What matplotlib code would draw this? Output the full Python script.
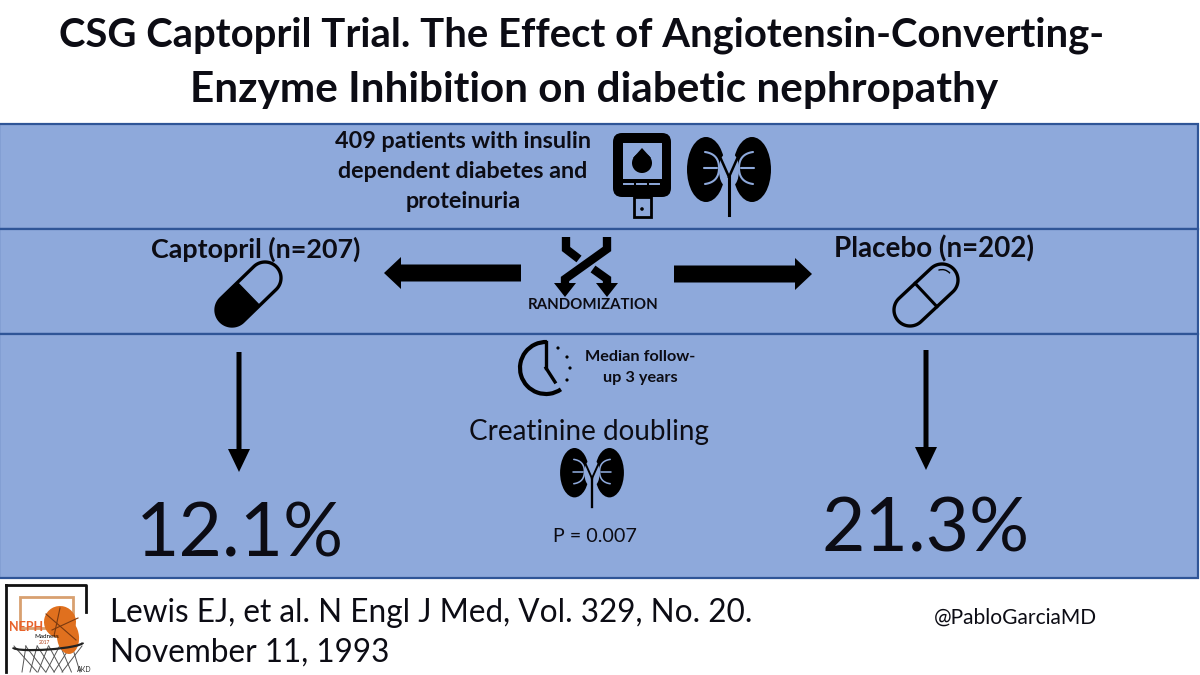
import matplotlib
matplotlib.use('Agg')
import matplotlib.pyplot as plt
import numpy as np
from matplotlib.patches import Rectangle, Ellipse, FancyBboxPatch, Polygon, Circle, Arc

plt.rcParams['font.family'] = ['Lato', 'DejaVu Sans']

title_lines = ['CSG Captopril Trial. The Effect of Angiotensin-Converting-',
               'Enzyme Inhibition on diabetic nephropathy']
population = ['409 patients with insulin', 'dependent diabetes and', 'proteinuria']
arm_labels = ['Captopril (n=207)', 'Placebo (n=202)']
arm_results = ['12.1%', '21.3%']
followup = ['Median follow-', 'up 3 years']
outcome = 'Creatinine doubling'
p_value = 'P = 0.007'
citation = ['Lewis EJ, et al. N Engl J Med, Vol. 329, No. 20.', 'November 11, 1993']
handle = '@PabloGarciaMD'

BLUE = '#8EA9DB'
EDGE = '#2F5597'
INK = '#0C0C14'

fig = plt.figure(figsize=(12, 6.75), dpi=100, facecolor='white')
ax = fig.add_axes([0, 0, 1, 1])
ax.set_xlim(0, 1200)
ax.set_ylim(675, 0)
ax.axis('off')


def curve(p0, p1, p2, **kw):
    # quadratic bezier, used for the kidney veins
    t = np.linspace(0, 1, 20)[:, None]
    p0, p1, p2 = np.array(p0), np.array(p1), np.array(p2)
    pts = (1 - t) ** 2 * p0 + 2 * t * (1 - t) * p1 + t ** 2 * p2
    ax.plot(pts[:, 0], pts[:, 1], **kw)


def kidney(cx, top, s):
    for side in (-1, 1):
        ax.add_patch(Ellipse((cx + side * 23 * s, top + 32.5 * s), 38 * s, 65 * s, fc='black', ec='none', zorder=3))
        ax.add_patch(Ellipse((cx + side * 3 * s, top + 33 * s), 14 * s, 32 * s, fc=BLUE, ec='none', zorder=4))
        kw = dict(color=BLUE, lw=1.5 * s, zorder=5, solid_capstyle='round')
        ax.plot([cx + side * 12 * s, cx + side * 25 * s], [top + 31 * s, top + 31 * s], **kw)
        curve((cx + side * 24 * s, top + 15 * s), (cx + side * 10 * s, top + 17 * s), (cx + side * 10 * s, top + 31 * s), **kw)
        curve((cx + side * 24 * s, top + 47 * s), (cx + side * 10 * s, top + 45 * s), (cx + side * 10 * s, top + 31 * s), **kw)
        ax.plot([cx, cx + side * 8 * s], [top + 40 * s, top + 22 * s], color='black', lw=1.8 * s, zorder=6)
    ax.plot([cx, cx], [top + 38 * s, top + 78 * s], color='black', lw=2.2 * s, zorder=6)


def pill(p0, p1, r, filled):
    p0, p1 = np.array(p0, float), np.array(p1, float)
    a = np.arctan2(p1[1] - p0[1], p1[0] - p0[0])
    t = np.linspace(-np.pi / 2, np.pi / 2, 40)
    top = np.c_[p1[0] + r * np.cos(a + t), p1[1] + r * np.sin(a + t)]
    bot = np.c_[p0[0] + r * np.cos(a + t + np.pi), p0[1] + r * np.sin(a + t + np.pi)]
    ax.add_patch(Polygon(np.r_[top, bot], closed=True, fc='none', ec='black', lw=2.4, zorder=4))
    mid = (p0 + p1) / 2
    n = np.array([-np.sin(a), np.cos(a)]) * r
    if filled:
        half = np.r_[[mid + n], bot, [mid - n]]
        ax.add_patch(Polygon(half, closed=True, fc='black', ec='black', lw=1, zorder=4))
    else:
        ax.plot([mid[0] - n[0], mid[0] + n[0]], [mid[1] - n[1], mid[1] + n[1]], color='black', lw=2.2, zorder=5)
        ax.add_patch(Arc(p1, r * 1.3, r * 1.3, theta1=-110, theta2=-40, color='black', lw=1, zorder=5))


def block_arrow(x0, x1, y, half, head, head_half):
    d = 1 if x1 > x0 else -1
    pts = [(x0, y - half), (x1 - d * head, y - half), (x1 - d * head, y - head_half), (x1, y),
           (x1 - d * head, y + head_half), (x1 - d * head, y + half), (x0, y + half)]
    ax.add_patch(Polygon(pts, closed=True, fc='black', ec='none', zorder=4))


def down_arrow(x, y0, y1):
    ax.add_patch(Polygon([(x - 2.5, y0), (x + 2.5, y0), (x + 2.5, y1 - 23), (x + 11, y1 - 23), (x, y1),
                          (x - 11, y1 - 23), (x - 2.5, y1 - 23)], closed=True, fc='black', ec='none', zorder=4))


# panels
for y0, y1 in [(124, 229), (229, 334), (334, 578)]:
    ax.add_patch(Rectangle((-1, y0), 1199, y1 - y0, fc=BLUE, ec=EDGE, lw=1.6, zorder=1))

# title
ax.text(581.5, 35, title_lines[0], ha='center', va='center', fontsize=28.8, fontweight='bold', color=INK)
ax.text(594, 90, title_lines[1], ha='center', va='center', fontsize=30.4, fontweight='bold', color=INK)

# top panel
for y, line in zip([141, 171, 201], population):
    ax.text(463, y, line, ha='center', va='center', fontsize=16.8, fontweight='bold', color=INK)
ax.add_patch(FancyBboxPatch((620, 140), 44, 50, boxstyle='round,pad=7,rounding_size=9', fc='black', ec='none', zorder=3))
ax.add_patch(Rectangle((623, 143), 39, 36, fc=BLUE, ec='none', zorder=4))
ax.add_patch(Circle((642, 163), 10, fc='black', ec='none', zorder=5))
ax.add_patch(Polygon([(633, 158), (651, 158), (642, 148)], closed=True, fc='black', ec='none', zorder=5))
for x in (624, 637, 650):
    ax.plot([x, x + 9], [184, 184], color=BLUE, lw=1.4, zorder=5)
ax.add_patch(Rectangle((634, 197), 17, 20, fc=BLUE, ec='black', lw=2, zorder=4))
ax.add_patch(Circle((642, 209), 1.8, fc='black', ec='none', zorder=5))
kidney(729, 137, 1.0)

# randomization row
ax.text(256, 249, arm_labels[0], ha='center', va='center', fontsize=19.4, fontweight='bold', color=INK)
ax.text(934, 249, arm_labels[1], ha='center', va='center', fontsize=20, fontweight='bold', color=INK)
block_arrow(521, 384, 273, 8.5, 17, 16)
block_arrow(674, 812, 274, 8.5, 17, 16)
band = dict(color='black', lw=6, solid_joinstyle='miter', solid_capstyle='butt', zorder=4)
ax.plot([607, 607, 565, 565], [237, 249, 279, 284], **band)
ax.plot([566, 566, 579], [237, 249, 259], **band)
ax.plot([593, 607, 607], [269, 279, 284], **band)
for x in (565, 607):
    ax.add_patch(Polygon([(x - 11, 283), (x + 11, 283), (x, 297)], closed=True, fc='black', ec='none', zorder=4))
ax.text(593, 305, 'RANDOMIZATION', ha='center', va='center', fontsize=10.8, fontweight='bold', color=INK)
pill((232, 310), (265, 278), 16, True)
pill((910, 310), (942, 280), 16, False)

# results panel
down_arrow(239, 352, 472)
down_arrow(926, 350, 470)
ax.text(240, 535, arm_results[0], ha='center', va='center', fontsize=54, color=INK)
ax.text(926, 530, arm_results[1], ha='center', va='center', fontsize=54, color=INK)

ax.add_patch(Arc((546, 368), 52, 52, theta1=55, theta2=272, color='black', lw=3, zorder=4))
ax.plot([546, 546], [342, 368], color='black', lw=2.4, zorder=4)
ax.plot([546, 555], [368, 382], color='black', lw=2.4, zorder=4)
for x, y in [(558, 348), (567, 357), (570, 368), (567, 380)]:
    ax.add_patch(Circle((x, y), 1.6, fc='black', ec='none', zorder=4))
ax.text(640.5, 357, followup[0], ha='center', va='center', fontsize=11.7, fontweight='bold', color=INK)
ax.text(640.5, 378, followup[1], ha='center', va='center', fontsize=11.7, fontweight='bold', color=INK)
ax.text(589, 432, outcome, ha='center', va='center', fontsize=20, color=INK)
kidney(592, 448, 0.76)
ax.text(595, 537, p_value, ha='center', va='center', fontsize=14.2, color=INK)

# logo
ax.plot([6, 6], [672, 585], color='#111111', lw=2, zorder=2)
ax.plot([6, 86, 86], [585, 585, 612], color='#111111', lw=2, zorder=2)
ax.add_patch(Rectangle((20, 597), 53, 31, fc='none', ec='#D8A070', lw=2, zorder=2))
for x0, x1 in zip(np.linspace(14, 72, 6), np.linspace(37, 80, 6)):
    ax.plot([x0, x1], [646, 672], color='#555555', lw=0.7, zorder=2)
for x0, x1 in zip(np.linspace(26, 82, 6), np.linspace(22, 62, 6)):
    ax.plot([x0, x1], [646, 672], color='#555555', lw=0.7, zorder=2)
ax.add_patch(Ellipse((60, 622), 32, 32, angle=-30, fc='#E0701E', ec='none', zorder=3))
ax.add_patch(Ellipse((68, 637), 22, 34, angle=-5, fc='#E0701E', ec='none', zorder=3))
for x0, y0, x1, y1 in [(46, 614, 76, 640), (60, 608, 54, 636), (52, 630, 78, 618)]:
    ax.plot([x0, x1], [y0, y1], color='#7A3A10', lw=0.8, zorder=4)
ax.text(26, 627, 'NEPH', ha='center', va='center', fontsize=9, fontweight='bold', color='#E8622A', zorder=5)
ax.text(47, 637, 'Madness', ha='center', va='center', fontsize=4.5, color='black', zorder=5)
ax.text(44, 643, '2017', ha='center', va='center', fontsize=3.5, color='#B0401A', zorder=5)
ax.add_patch(Arc((48, 645), 70, 9, angle=-4, theta1=0, theta2=180, color='#222222', lw=1.6, zorder=4))
ax.text(84, 669, 'AKD', ha='center', va='center', fontsize=5, color='#333333')

# footer
ax.text(110, 613, citation[0], ha='left', va='center', fontsize=22.7, color=INK)
ax.text(110, 653, citation[1], ha='left', va='center', fontsize=22.7, color=INK)
ax.text(1015, 618, handle, ha='center', va='center', fontsize=15.1, color=INK)

fig.savefig('out.png', dpi=100)
